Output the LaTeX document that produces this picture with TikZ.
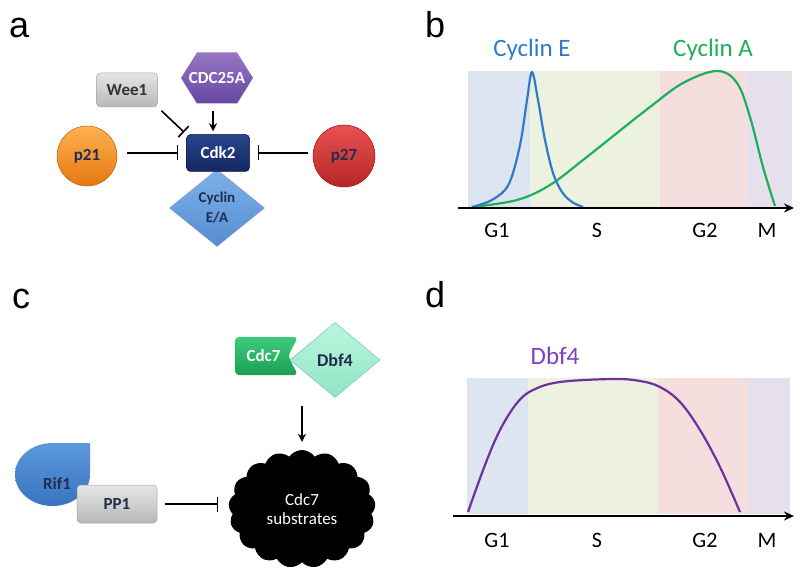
\documentclass[tikz,border=0pt]{standalone}
\usepackage{fontspec}
\setmainfont{Carlito}
\newfontfamily\panelfont{Liberation Sans}
\usetikzlibrary{arrows.meta,shapes.geometric,shapes.symbols}
\definecolor{navyText}{HTML}{1F2D4F}
\definecolor{bandGone}{HTML}{DDE5F1}
\definecolor{bandS}{HTML}{EDF1E0}
\definecolor{bandGtwo}{HTML}{F4DEDE}
\definecolor{bandM}{HTML}{E6E0EC}
\definecolor{cycE}{HTML}{2F7BC8}
\definecolor{cycA}{HTML}{1EAF5A}
\definecolor{dbfLine}{HTML}{7030A0}
\definecolor{dbfText}{HTML}{7F3FBF}
\tikzset{
  base/.style={font=\bfseries\fontsize{17}{19}\selectfont, text=navyText, align=center},
  panel/.style={font=\panelfont\fontsize{36}{40}\selectfont, text=black},
  phase/.style={font=\fontsize{22}{24}\selectfont, text=black},
  curvelabel/.style={font=\fontsize{25}{28}\selectfont},
  ball/.style={base, circle, inner sep=0, minimum size=60, draw=#1!75!black, line width=0.5},
  gbox/.style={base, rectangle, rounded corners=4, inner sep=0, draw=black!35, line width=0.5,
    top color=black!10, bottom color=black!28},
  inhibit/.style={-{Bar[width=15pt,line width=1.6pt]}, line width=1.6, draw=black},
  act/.style={-{Stealth[length=8pt,width=8pt]}, line width=1.6, draw=black},
  axis/.style={-{Stealth[length=10pt,width=9pt]}, line width=2, draw=black},
  curve/.style={line width=2.2, line join=round},
}
\begin{document}
\begin{tikzpicture}[x=1pt,y=-1pt]
  \useasboundingbox[fill=white] (0,0) rectangle (800,577);

  % panel letters
  \node[panel,anchor=base west,inner sep=0] (la) at (9,38) {a};
  \node[panel,anchor=base west,inner sep=0] (lb) at (425,38) {b};
  \node[panel,anchor=base west,inner sep=0] (lc) at (12,308) {c};
  \node[panel,anchor=base west,inner sep=0] (ld) at (425,307) {d};

  % ---- a: Cdk2 regulators
  \node[base, diamond, inner sep=0, minimum width=95, minimum height=77, draw=blue!40!black!40,
    line width=0.5, top color={rgb,255:red,125;green,179;blue,234}, bottom color={rgb,255:red,85;green,140;blue,208},
    font=\bfseries\fontsize{15}{16}\selectfont] (cyc) at (217,208) {\raisebox{4pt}{Cyclin}\\E/A};
  \node[base, rectangle, rounded corners=4, minimum width=63, minimum height=37, inner sep=0, text=white,
    draw={rgb,255:red,10;green,25;blue,70}, line width=0.5,
    top color={rgb,255:red,40;green,68;blue,140}, bottom color={rgb,255:red,20;green,40;blue,98}] (cdk) at (218,153) {Cdk2};
  \node[gbox, minimum width=61, minimum height=34, text=black!80] (wee) at (127,90) {Wee1};
  \node[base, minimum width=72, minimum height=51, inner sep=0, text=white,
    path picture={\shade[top color={rgb,255:red,150;green,118;blue,196}, bottom color={rgb,255:red,104;green,72;blue,160}]
      (path picture bounding box.west) -- ([xshift=16pt]path picture bounding box.north west)
      -- ([xshift=-16pt]path picture bounding box.north east) -- (path picture bounding box.east)
      -- ([xshift=-16pt]path picture bounding box.south east) -- ([xshift=16pt]path picture bounding box.south west) -- cycle;}] (cdc) at (217,78) {CDC25A};
  \node[ball=orange, top color={rgb,255:red,255;green,178;blue,80}, bottom color={rgb,255:red,228;green,120;blue,16}] (pa) at (87,156) {p21};
  \node[ball=red, minimum size=62, top color={rgb,255:red,232;green,82;blue,80}, bottom color={rgb,255:red,182;green,38;blue,40}] (pb) at (344,156) {p27};

  \draw[inhibit, shorten <=10pt, shorten >=8pt] (pa.east |- cdk.west) -- (cdk.west);
  \draw[inhibit, shorten <=5pt, shorten >=8pt] (pb.west |- cdk.east) -- (cdk.east);
  \draw[inhibit, shorten <=5pt, shorten >=3pt] (wee.south east) -- (cdk.north west);
  \draw[act, shorten <=7pt, shorten >=3pt] ([xshift=-4pt]cdc.south) -- ([xshift=-5pt]cdk.north);

  % ---- b: Cyclin E / A levels
  \fill[bandGone] (468,71) rectangle (530,207);
  \fill[bandS] (530,71) rectangle (660,207);
  \fill[bandGtwo] (660,71) rectangle (747,207);
  \fill[bandM] (747,71) rectangle (792,207);
  \draw[curve, cycA] plot[smooth, tension=0.6] coordinates {(472,207) (517,200) (550,185) (583,160) (617,133)
    (650,107) (683,83) (717,71) (737,83) (750,117) (763,167) (775,206)};
  \draw[curve, cycE] plot[smooth, tension=0.55] coordinates {(472,207) (490,201) (505,190) (513,173) (521,140)
    (527,100) (532,72) (538,100) (545,140) (553,173) (562,192) (572,202) (583,207)};
  \coordinate (bax0) at (458,208);
  \coordinate (bax1) at (794,208);
  \draw[axis] (bax0) -- (bax1);
  \node[curvelabel, text=cycE] (lce) at (532,50) {Cyclin E};
  \node[curvelabel, text=cycA] (lca) at (713,50) {Cyclin A};
  \node[phase] (bg1) at (497,230) {G1};
  \node[phase] (bs) at (597,230) {S};
  \node[phase] (bg2) at (705,230) {G2};
  \node[phase] (bm) at (767,230) {M};

  % ---- c: Cdc7 regulation
  \node[base, minimum width=147, minimum height=118, cloud, cloud puffs=17, cloud puff arc=110, aspect=1.25,
    fill=black, text=white, font=\fontsize{17}{19}\selectfont] (sub) at (302,509) {Cdc7\\substrates};
  \shade[top color={rgb,255:red,92;green,152;blue,218}, bottom color={rgb,255:red,56;green,116;blue,192}]
    (90,443) -- (90,474.5) .. controls (90,491.9) and (73.2,506) .. (52.5,506)
    .. controls (31.8,506) and (15,491.9) .. (15,474.5)
    .. controls (15,457.1) and (31.8,443) .. (52.5,443) -- cycle;
  \node[base] (rif) at (57,484) {Rif1};
  \node[gbox, minimum width=80, minimum height=38] (pp) at (117,504) {PP1};
  \draw[inhibit, shorten <=8pt, shorten >=11pt] (pp.east) -- (pp.east -| sub.west);

  \node[base, minimum width=63, minimum height=38, inner sep=0, text=white,
    path picture={\shade[rounded corners=4pt, top color={rgb,255:red,60;green,203;blue,122}, bottom color={rgb,255:red,28;green,160;blue,84}]
      (path picture bounding box.north west) -- (path picture bounding box.north east)
      -- ([xshift=-10pt]path picture bounding box.east) -- (path picture bounding box.south east)
      -- (path picture bounding box.south west) -- cycle;}] (cds) at (266.5,356) {Cdc7\hspace*{6pt}};
  \node[base, diamond, inner sep=0, minimum width=90, minimum height=75, font=\bfseries\fontsize{18}{20}\selectfont,
    draw={rgb,255:red,120;green,200;blue,170}, line width=0.5,
    top color={rgb,255:red,186;green,246;blue,222}, bottom color={rgb,255:red,146;green,228;blue,196}] (dbf) at (335,360) {Dbf4};
  \draw[act, shorten <=8pt, shorten >=8pt] (dbf.south -| sub.north) -- (sub.north);

  % ---- d: Dbf4 levels
  \fill[bandGone] (467,378) rectangle (528,514);
  \fill[bandS] (528,378) rectangle (658,514);
  \fill[bandGtwo] (658,378) rectangle (748,514);
  \fill[bandM] (748,378) rectangle (790,514);
  \draw[curve, dbfLine] plot[smooth, tension=0.6] coordinates {(468,512) (485,465) (500,430) (517,403) (533,390)
    (560,382) (613,379) (640,381) (660,387) (680,402) (700,430) (720,467) (740,512)};
  \coordinate (dax0) at (453,516);
  \coordinate (dax1) at (794,516);
  \draw[axis] (dax0) -- (dax1);
  \node[curvelabel, text=dbfText] (ldb) at (555,356) {Dbf4};
  \node[phase] (dg1) at (497,540) {G1};
  \node[phase] (ds) at (597,540) {S};
  \node[phase] (dg2) at (705,540) {G2};
  \node[phase] (dm) at (767,540) {M};
\end{tikzpicture}
\end{document}
